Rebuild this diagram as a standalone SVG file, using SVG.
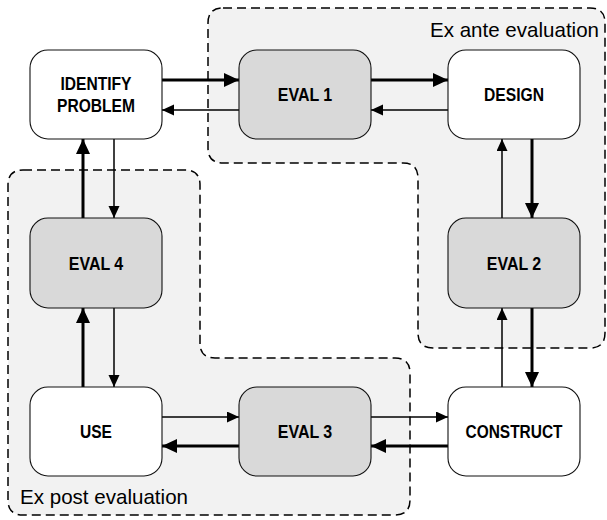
<svg xmlns="http://www.w3.org/2000/svg" width="607" height="520" viewBox="0 0 607 520">
<style>
.region{fill:#f2f2f2;stroke:#000;stroke-width:1.5;stroke-dasharray:9,5}
.node rect{stroke:#111;stroke-width:1.1}
.plain{fill:#fff}
.eval{fill:#d9d9d9}
.lbl{font-family:"Liberation Sans",Arial,sans-serif;font-weight:bold;font-size:18.5px;fill:#000;text-anchor:middle}
.rlbl{font-family:"Liberation Sans",Arial,sans-serif;font-size:21px;fill:#000}
.thick{stroke:#000;stroke-width:3;fill:none;marker-end:url(#headThick)}
.thin{stroke:#000;stroke-width:1.5;fill:none;marker-end:url(#headThin)}
</style>
<defs>
<marker id="headThick" markerUnits="userSpaceOnUse" markerWidth="16" markerHeight="16" refX="15" refY="7" orient="auto">
<path d="M0,0 L15,7 L0,14 Z" fill="#000"/>
</marker>
<marker id="headThin" markerUnits="userSpaceOnUse" markerWidth="13" markerHeight="12" refX="12" refY="5.5" orient="auto">
<path d="M0,0 L12,5.5 L0,11 Z" fill="#000"/>
</marker>
</defs>
<g id="region-ex-ante">
<path class="region" d="M223 8 H590 Q605 8 605 23 V333 Q605 348 590 348 H433 Q418 348 418 333 V178 Q418 163 403 163 H223 Q208 163 208 148 V23 Q208 8 223 8 Z"/>
<text class="rlbl" x="430" y="36.5" textLength="169" lengthAdjust="spacingAndGlyphs">Ex ante evaluation</text>
</g>
<g id="region-ex-post">
<path class="region" d="M23 170 H185 Q200 170 200 185 V343 Q200 358 215 358 H395 Q410 358 410 373 V500 Q410 515 395 515 H23 Q8 515 8 500 V185 Q8 170 23 170 Z"/>
<text class="rlbl" x="20" y="504" textLength="168" lengthAdjust="spacingAndGlyphs">Ex post evaluation</text>
</g>
<g id="connectors">
<path class="thick" d="M162 80 H239"/>
<path class="thin" d="M239 110 H162"/>
<path class="thick" d="M371 80 H448"/>
<path class="thin" d="M448 110 H371"/>
<path class="thick" d="M532 139 V218"/>
<path class="thin" d="M502 218 V139"/>
<path class="thick" d="M532 308 V387"/>
<path class="thin" d="M502 387 V308"/>
<path class="thin" d="M371 417 H448"/>
<path class="thick" d="M448 446 H371"/>
<path class="thin" d="M162 417 H239"/>
<path class="thick" d="M239 446 H162"/>
<path class="thick" d="M83 387 V308"/>
<path class="thin" d="M114 308 V387"/>
<path class="thick" d="M83 218 V139"/>
<path class="thin" d="M114 139 V218"/>
</g>
<g id="identify-problem" class="node">
<rect class="plain" x="30" y="50" width="132" height="89" rx="18"/>
<text class="lbl" x="96" y="89.5" textLength="71" lengthAdjust="spacingAndGlyphs">IDENTIFY</text>
<text class="lbl" x="96" y="111.5" textLength="78" lengthAdjust="spacingAndGlyphs">PROBLEM</text>
</g>
<g id="eval1" class="node">
<rect class="eval" x="239" y="50" width="132" height="89" rx="18"/>
<text class="lbl" x="305" y="101" textLength="54.5" lengthAdjust="spacingAndGlyphs">EVAL 1</text>
</g>
<g id="design" class="node">
<rect class="plain" x="448" y="50" width="132" height="89" rx="18"/>
<text class="lbl" x="514" y="101" textLength="60" lengthAdjust="spacingAndGlyphs">DESIGN</text>
</g>
<g id="eval4" class="node">
<rect class="eval" x="30" y="218" width="132" height="90" rx="18"/>
<text class="lbl" x="96" y="269.5" textLength="54.5" lengthAdjust="spacingAndGlyphs">EVAL 4</text>
</g>
<g id="eval2" class="node">
<rect class="eval" x="448" y="218" width="132" height="90" rx="18"/>
<text class="lbl" x="514" y="269.5" textLength="54.5" lengthAdjust="spacingAndGlyphs">EVAL 2</text>
</g>
<g id="use" class="node">
<rect class="plain" x="30" y="387" width="132" height="89" rx="18"/>
<text class="lbl" x="96" y="438" textLength="32" lengthAdjust="spacingAndGlyphs">USE</text>
</g>
<g id="eval3" class="node">
<rect class="eval" x="239" y="387" width="132" height="89" rx="18"/>
<text class="lbl" x="305" y="438" textLength="54.5" lengthAdjust="spacingAndGlyphs">EVAL 3</text>
</g>
<g id="construct" class="node">
<rect class="plain" x="448" y="387" width="132" height="89" rx="18"/>
<text class="lbl" x="514" y="438" textLength="97" lengthAdjust="spacingAndGlyphs">CONSTRUCT</text>
</g>
</svg>
